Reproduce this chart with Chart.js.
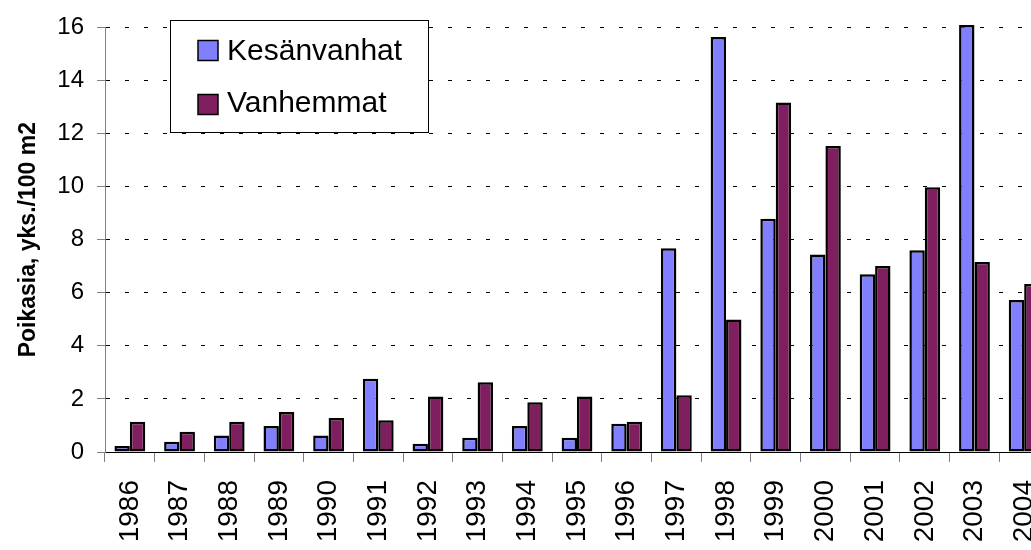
<!DOCTYPE html>
<html>
<head>
<meta charset="utf-8">
<script src="https://cdn.jsdelivr.net/npm/chart.js@4/dist/chart.umd.min.js"></script>
<style>
  html, body { margin: 0; padding: 0; background: #ffffff; overflow: hidden; width: 1031px; height: 550px; }
  canvas { display: block; }
</style>
</head>
<body>
<canvas id="c" width="1090" height="550"></canvas>
<script>
const years = ['1986','1987','1988','1989','1990','1991','1992','1993','1994','1995','1996','1997','1998','1999','2000','2001','2002','2003','2004'];
const kesanvanhat = [0.23,0.39,0.62,0.98,0.62,2.76,0.31,0.54,0.98,0.54,1.06,7.68,15.64,8.79,7.44,6.70,7.60,16.09,5.73];
const vanhemmat = [1.14,0.76,1.14,1.51,1.28,1.20,2.09,2.63,1.87,2.09,1.14,2.14,4.99,13.17,11.53,7.01,9.98,7.16,6.33];
const seriesNames = ['Kesänvanhat', 'Vanhemmat'];
const yTitle = 'Poikasia, yks./100 m2';

const FONT = '"Liberation Sans", Arial, sans-serif';

const boxLegend = {
  id: 'boxLegend',
  afterDraw(chart) {
    const ctx = chart.ctx;
    ctx.save();
    ctx.fillStyle = '#ffffff';
    ctx.fillRect(170.5, 20.5, 258, 112);
    ctx.strokeStyle = '#000000';
    ctx.lineWidth = 1;
    ctx.strokeRect(170.5, 20.5, 258, 112);
    const rows = [{sq: 40.5, base: 59.5}, {sq: 94.5, base: 112}];
    chart.data.datasets.forEach((ds, i) => {
      const r = rows[i];
      ctx.fillStyle = ds.backgroundColor;
      ctx.fillRect(198, r.sq, 20, 20);
      ctx.lineWidth = 1.5;
      ctx.strokeStyle = '#000000';
      ctx.strokeRect(198, r.sq, 20, 20);
      ctx.fillStyle = '#000000';
      ctx.font = '30px ' + FONT;
      ctx.textAlign = 'left';
      ctx.textBaseline = 'alphabetic';
      ctx.fillText(ds.label, 227, r.base);
    });
    ctx.restore();
  }
};

new Chart(document.getElementById('c'), {
  type: 'bar',
  data: {
    labels: years,
    datasets: [
      { label: seriesNames[0], data: kesanvanhat, backgroundColor: '#8080ff', borderColor: '#000000', borderWidth: 2.5, borderSkipped: false, clip: false },
      { label: seriesNames[1], data: vanhemmat, backgroundColor: '#7f1f5f', borderColor: '#000000', borderWidth: 2.5, borderSkipped: false, clip: false }
    ]
  },
  options: {
    responsive: false,
    animation: false,
    devicePixelRatio: 1,
    layout: { padding: { top: 22, right: 41, left: 0, bottom: 0 } },
    datasets: { bar: { categoryPercentage: 0.62, barPercentage: 1.0 } },
    plugins: { legend: { display: false }, tooltip: { enabled: false } },
    scales: {
      x: {
        offset: true,
        grid: { display: true, drawOnChartArea: false, drawTicks: true, tickLength: 10, tickColor: '#808080', offset: true },
        border: { display: true, color: '#000000', width: 1 },
        ticks: { color: '#000000', font: { family: FONT, size: 28 }, minRotation: 90, maxRotation: 90, padding: 18, autoSkip: false },
        afterFit(scale) { scale.height = 98; }
      },
      y: {
        min: 0, max: 16,
        grid: { color: '#000000', lineWidth: 1, drawTicks: true, tickLength: 8, tickColor: '#808080' },
        border: { display: true, color: '#808080', width: 1, dash: [4, 15] },
        ticks: { stepSize: 2, color: '#000000', font: { family: FONT, size: 24 }, padding: 13 },
        title: { display: true, text: yTitle, color: '#000000', font: { family: FONT, size: 23, weight: 'bold' }, padding: { top: 15, bottom: 0 } },
        afterFit(scale) { scale.width = 105; }
      }
    }
  },
  plugins: [boxLegend]
});
</script>
</body>
</html>
